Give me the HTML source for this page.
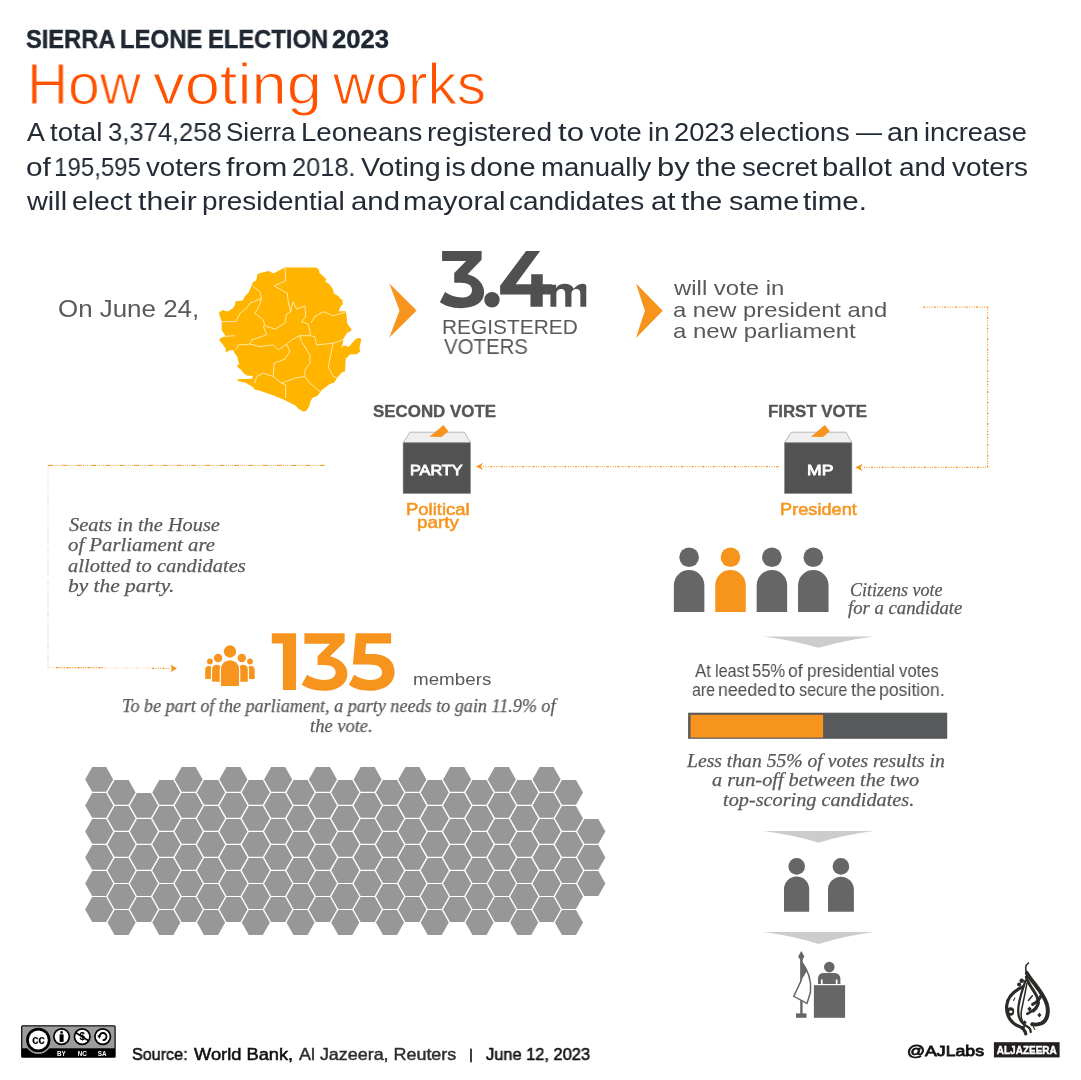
<!DOCTYPE html>
<html><head><meta charset="utf-8"><style>
html,body{margin:0;padding:0;background:#fff;}
#root{position:relative;width:1081px;height:1080px;overflow:hidden;background:#fff;}
.t{position:absolute;white-space:nowrap;transform-origin:0 0;will-change:transform;}
svg{position:absolute;left:0;top:0;will-change:transform;}
</style></head><body><div id="root">
<svg width="1081" height="1080" viewBox="0 0 1081 1080">
<rect x="470.2" y="1048.6" width="1.6" height="13.7" fill="#111"/>
<path d="M284.6,267.6 L316.1,267.6 L319.1,269.8 L319.4,273.1 L322.0,275.0 L326.1,279.0 L325.4,281.6 L329.4,284.2 L333.1,289.4 L333.9,293.5 L339.1,296.4 L339.8,298.3 L342.4,299.8 L342.8,304.2 L340.6,306.4 L338.7,311.3 L345.7,311.3 L346.5,315.3 L347.2,323.5 L351.7,329.4 L349.4,332.0 L347.2,332.4 L344.3,337.6 L342.8,339.8 L343.5,340.2 L341.3,348.3 L343.5,345.4 L347.2,346.1 L348.3,347.2 L356.1,338.7 L359.8,338.0 L361.3,339.4 L359.4,348.0 L360.2,350.9 L357.2,354.3 L350.2,354.3 L345.7,358.7 L345.0,371.3 L341.3,372.8 L336.1,379.4 L334.3,382.4 L329.4,384.3 L321.3,390.6 L317.6,395.7 L312.4,398.0 L310.2,401.7 L309.4,406.1 L306.5,410.6 L303.9,411.7 L298.7,409.1 L295.4,405.4 L285.0,400.2 L274.3,395.7 L259.4,390.6 L255.0,389.8 L252.8,386.9 L246.1,383.1 L238.0,380.9 L236.9,379.4 L241.7,379.1 L252.0,378.7 L252.8,376.1 L246.9,375.4 L243.1,372.8 L241.7,370.6 L236.5,366.1 L239.4,363.9 L238.0,360.2 L237.2,356.5 L234.3,352.8 L233.5,350.2 L229.8,350.2 L226.1,352.4 L225.4,348.3 L222.4,343.9 L219.8,340.9 L219.4,338.7 L225.4,336.0 L221.7,330.1 L221.7,321.3 L219.4,315.3 L219.1,312.0 L223.9,310.0 L224.6,310.9 L228.3,311.3 L232.8,308.3 L235.0,305.0 L235.7,301.3 L242.8,300.5 L245.0,296.1 L248.3,293.1 L251.3,286.4 L253.1,282.0 L256.1,280.5 L257.6,273.9 L262.4,272.4 L268.7,270.9 L273.5,273.5 Z" fill="#ffb400" />
<path d="M284.9,267.5 L285.7,280.8 L274.1,285.8 L281.6,290.0 L287.4,293.3 L288.2,301.6 L290.7,311.6 L286.6,314.1 L284.9,323.3 L274.9,329.1 L264.9,325.8 L263.3,319.9 L254.9,313.3 L258.3,307.4 L261.6,298.3 L259.9,291.6 L253.3,286.6" fill="none" stroke="#fff4d6" stroke-width="0.8"/>
<path d="M261.6,298.3 L249.9,303.3 L246.6,308.3 L240.0,313.3 L235.8,321.6 L221.6,321.6" fill="none" stroke="#fff4d6" stroke-width="0.8"/>
<path d="M263.3,325.8 L266.6,334.9 L251.6,339.9 L249.9,344.1 L238.3,344.9 L235.8,349.9" fill="none" stroke="#fff4d6" stroke-width="0.8"/>
<path d="M221.6,336.6 L235.0,335.7" fill="none" stroke="#fff4d6" stroke-width="0.8"/>
<path d="M249.9,344.1 L259.9,346.6 L273.3,344.9 L278.3,349.9 L286.6,344.1 L291.6,339.9 L299.9,335.7 L309.9,335.7 L314.9,336.6 L316.6,344.9 L333.2,343.2 L343.2,339.9" fill="none" stroke="#fff4d6" stroke-width="0.8"/>
<path d="M290.7,311.6 L293.2,301.6 L296.6,309.1 L304.9,305.8 L305.7,316.6 L301.6,321.6 L308.2,324.1 L310.7,334.9" fill="none" stroke="#fff4d6" stroke-width="0.8"/>
<path d="M310.7,323.3 L314.9,316.6 L323.2,311.6 L333.2,315.8 L344.9,312.4" fill="none" stroke="#fff4d6" stroke-width="0.8"/>
<path d="M299.9,335.7 L301.6,341.6 L309.9,354.9 L309.9,363.2 L304.9,369.9 L304.9,376.5 L309.9,383.2 L319.9,391.5" fill="none" stroke="#fff4d6" stroke-width="0.8"/>
<path d="M286.6,344.1 L289.9,351.6 L284.9,359.1 L274.1,363.2 L273.3,376.5 L281.6,383.2 L285.7,384.9 L285.7,398.2" fill="none" stroke="#fff4d6" stroke-width="0.8"/>
<path d="M281.6,383.2 L294.9,378.2 L304.9,376.5" fill="none" stroke="#fff4d6" stroke-width="0.8"/>
<path d="M273.3,376.5 L263.3,373.2 L256.6,376.5 L254.9,383.2" fill="none" stroke="#fff4d6" stroke-width="0.8"/>
<path d="M333.2,343.2 L328.2,366.6 L333.2,376.5 L338.2,378.2" fill="none" stroke="#fff4d6" stroke-width="0.8"/>
<path d="M389.2,283.3 L416.6,310.5 L389.2,337.7 Q396.5,318.5 399.5,310.5 Q396.5,302.5 389.2,283.3 Z" fill="#f7941d"/>
<path d="M636.1,283.5 L662.7,310.7 L636.1,337.9 Q642,318.7 645,310.7 Q642,302.7 636.1,283.5 Z" fill="#f7941d"/>
<path d="M409.8,432.2 L464.6,432.2 L470.5,442.8 L403.1,442.8 Z" fill="#efefef" stroke="#a8a8a8" stroke-width="0.8"/>
<path d="M429.6,436.7 L443.4,425.1 L448.5,431.2 L441.5,436.9 Z" fill="#f7941d"/>
<rect x="403.1" y="442.8" width="67.4" height="50.7" fill="#525252" stroke="#8a8a8a" stroke-width="0.6"/>
<path d="M791.2,432.2 L846.0,432.2 L851.9,442.8 L784.5,442.8 Z" fill="#efefef" stroke="#a8a8a8" stroke-width="0.8"/>
<path d="M811.0,436.7 L824.8,425.1 L829.9,431.2 L822.9,436.9 Z" fill="#f7941d"/>
<rect x="784.5" y="442.8" width="67.4" height="50.7" fill="#525252" stroke="#8a8a8a" stroke-width="0.6"/>
<path d="M923,307.2 L987.6,307.2 L987.6,467.3 L862,467.3" stroke="#f7941d" stroke-width="1.25" fill="none" stroke-dasharray="2.2 1.5 0.8 1.5 0.8 1.5 0.8 1.5"/>
<path d="M855.4,467.4 L862.5,463.8 L860.5,467.4 L862.5,471 Z" fill="#f7941d"/>
<path d="M778.5,466.5 L483,466.5" stroke="#f7941d" stroke-width="1.25" fill="none" stroke-dasharray="2.2 1.5 0.8 1.5 0.8 1.5 0.8 1.5"/>
<path d="M476,466.4 L483,462.8 L481,466.4 L483,470 Z" fill="#f7941d"/>
<path d="M324.8,465.4 L48,465.4" stroke="#f7941d" stroke-width="1" fill="none" stroke-dasharray="5 1.2 0.8 1.2 0.8 1.2 0.8 1.2 0.8 1.3"/>
<path d="M48,465.4 L48,667.6 L104,667.6" stroke="#f7941d" stroke-width="1.25" fill="none" stroke-dasharray="2.2 1.5 0.8 1.5 0.8 1.5 0.8 1.5" opacity="0.4"/>
<path d="M56,667.6 L104,667.6" stroke="#f7941d" stroke-width="1.25" fill="none" stroke-dasharray="2.2 1.5 0.8 1.5 0.8 1.5 0.8 1.5"/>
<path d="M104,668 L152,668" stroke="#f7941d" stroke-width="1.25" fill="none" stroke-dasharray="2.2 1.5 0.8 1.5 0.8 1.5 0.8 1.5" opacity="0.35"/>
<path d="M152,668.3 L172,668.3" stroke="#f7941d" stroke-width="1.25" fill="none" stroke-dasharray="2.2 1.5 0.8 1.5 0.8 1.5 0.8 1.5"/>
<path d="M177,668.4 L170.5,664.6 L172,668.4 L170.5,672.2 Z" fill="#f7941d"/>
<circle cx="209.9" cy="661.5" r="2.9" fill="#f7941d"/>
<circle cx="250" cy="661.5" r="2.9" fill="#f7941d"/>
<path d="M205.2,679 L205.2,669.75 A3.6500000000000057,3.6500000000000057 0 0 1 212.5,669.75 L212.5,679 Z" fill="#f7941d"/>
<path d="M247.1,679 L247.1,669.9 A3.799999999999997,3.799999999999997 0 0 1 254.7,669.9 L254.7,679 Z" fill="#f7941d"/>
<circle cx="218.1" cy="658" r="4.2" fill="#f7941d"/>
<circle cx="241.8" cy="658" r="4.2" fill="#f7941d"/>
<path d="M211.5,682.3 L211.5,669.35 A5.25,5.25 0 0 1 222,669.35 L222,682.3 Z" fill="#f7941d" stroke="#fff" stroke-width="1.2"/>
<path d="M238,682.3 L238,669.3000000000001 A5.200000000000003,5.200000000000003 0 0 1 248.4,669.3000000000001 L248.4,682.3 Z" fill="#f7941d" stroke="#fff" stroke-width="1.2"/>
<circle cx="230" cy="651.5" r="6.15" fill="#f7941d"/>
<path d="M220.3,686.5 L220.3,669.3 A9.699999999999989,9.699999999999989 0 0 1 239.7,669.3 L239.7,686.5 Z" fill="#f7941d" stroke="#fff" stroke-width="1.2"/>
<circle cx="689.1" cy="557.2" r="9.8" fill="#666666"/>
<path d="M673.85,612 L673.85,585.25 A15.25,15.25 0 0 1 704.35,585.25 L704.35,612 Z" fill="#666666"/>
<circle cx="730.5" cy="557.2" r="9.8" fill="#f7941d"/>
<path d="M715.25,612 L715.25,585.25 A15.25,15.25 0 0 1 745.75,585.25 L745.75,612 Z" fill="#f7941d"/>
<circle cx="771.9" cy="557.2" r="9.8" fill="#666666"/>
<path d="M756.65,612 L756.65,585.25 A15.25,15.25 0 0 1 787.15,585.25 L787.15,612 Z" fill="#666666"/>
<circle cx="813.3" cy="557.2" r="9.8" fill="#666666"/>
<path d="M798.05,612 L798.05,585.25 A15.25,15.25 0 0 1 828.55,585.25 L828.55,612 Z" fill="#666666"/>
<path d="M763.6,636.6 L873.7,636.6 Q843.6500000000001,640.6 818.6500000000001,647.8 Q793.6500000000001,640.6 763.6,636.6 Z" fill="#cccccc"/>
<path d="M763.6,831.1 L873.7,831.1 Q843.6500000000001,835.1 818.6500000000001,842.7 Q793.6500000000001,835.1 763.6,831.1 Z" fill="#cccccc"/>
<path d="M763.4,931.9 L874.2,931.9 Q843.8,935.9 818.8,943.9 Q793.8,935.9 763.4,931.9 Z" fill="#cccccc"/>
<rect x="688.1" y="712.7" width="259.1" height="26.1" fill="#58595b"/>
<rect x="690.5" y="714.8" width="132.6" height="22.8" fill="#f7941d"/>
<circle cx="796.7" cy="866.4" r="8.3" fill="#666666"/>
<path d="M784,911.7 L784,889.2 A12.600000000000023,12.600000000000023 0 0 1 809.2,889.2 L809.2,911.7 Z" fill="#666666"/>
<circle cx="840.9" cy="866.4" r="8.3" fill="#666666"/>
<path d="M828,911.7 L828,889.55 A12.949999999999989,12.949999999999989 0 0 1 853.9,889.55 L853.9,911.7 Z" fill="#666666"/>
<rect x="813.9" y="985.2" width="31.2" height="32.6" fill="#666666"/>
<circle cx="829.3" cy="967.1" r="5.3" fill="#666666"/>
<path d="M818,984 L818,978 A5.5,5.5 0 0 1 823.5,972.9 L835,972.9 A5.5,5.5 0 0 1 840.4,978 L840.4,984 L837.5,984 L837.5,979.5 L835.8,979.5 L835.8,984 L822.6,984 L822.6,979.5 L820.9,979.5 L820.9,984 Z" fill="#666666"/>
<rect x="800.2" y="958" width="2.4" height="56" fill="#666666"/>
<path d="M801.3,950.9 L804.4,956.5 L801.3,961.5 L798.1,956.5 Z" fill="#666666"/>
<rect x="796" y="1013.4" width="10.5" height="4.4" fill="#666666"/>
<path d="M801.4,961.5 Q812,975 810.5,992 L807,1003.5 L793.8,996.3 L801.4,980 Z" fill="#fff" stroke="#666666" stroke-width="1.5"/>
<path d="M801.4,961.5 Q805,966 807,971 L801.4,980 Z" fill="#666666"/>
<path d="M85.15,779.40 L92.17,766.99 L106.23,766.99 L113.25,779.40 L106.23,791.81 L92.17,791.81ZM85.15,805.42 L92.17,793.01 L106.23,793.01 L113.25,805.42 L106.23,817.83 L92.17,817.83ZM85.15,831.44 L92.17,819.03 L106.23,819.03 L113.25,831.44 L106.23,843.85 L92.17,843.85ZM85.15,857.46 L92.17,845.05 L106.23,845.05 L113.25,857.46 L106.23,869.87 L92.17,869.87ZM85.15,883.48 L92.17,871.07 L106.23,871.07 L113.25,883.48 L106.23,895.89 L92.17,895.89ZM85.15,909.50 L92.17,897.09 L106.23,897.09 L113.25,909.50 L106.23,921.91 L92.17,921.91ZM107.52,792.41 L114.55,780.00 L128.59,780.00 L135.62,792.41 L128.59,804.82 L114.55,804.82ZM107.52,818.43 L114.55,806.02 L128.59,806.02 L135.62,818.43 L128.59,830.84 L114.55,830.84ZM107.52,844.45 L114.55,832.04 L128.59,832.04 L135.62,844.45 L128.59,856.86 L114.55,856.86ZM107.52,870.47 L114.55,858.06 L128.59,858.06 L135.62,870.47 L128.59,882.88 L114.55,882.88ZM107.52,896.49 L114.55,884.08 L128.59,884.08 L135.62,896.49 L128.59,908.90 L114.55,908.90ZM107.52,922.51 L114.55,910.10 L128.59,910.10 L135.62,922.51 L128.59,934.92 L114.55,934.92ZM129.89,805.42 L136.91,793.01 L150.97,793.01 L157.99,805.42 L150.97,817.83 L136.91,817.83ZM129.89,831.44 L136.91,819.03 L150.97,819.03 L157.99,831.44 L150.97,843.85 L136.91,843.85ZM129.89,857.46 L136.91,845.05 L150.97,845.05 L157.99,857.46 L150.97,869.87 L136.91,869.87ZM129.89,883.48 L136.91,871.07 L150.97,871.07 L157.99,883.48 L150.97,895.89 L136.91,895.89ZM129.89,909.50 L136.91,897.09 L150.97,897.09 L157.99,909.50 L150.97,921.91 L136.91,921.91ZM152.26,792.41 L159.28,780.00 L173.34,780.00 L180.36,792.41 L173.34,804.82 L159.28,804.82ZM152.26,818.43 L159.28,806.02 L173.34,806.02 L180.36,818.43 L173.34,830.84 L159.28,830.84ZM152.26,844.45 L159.28,832.04 L173.34,832.04 L180.36,844.45 L173.34,856.86 L159.28,856.86ZM152.26,870.47 L159.28,858.06 L173.34,858.06 L180.36,870.47 L173.34,882.88 L159.28,882.88ZM152.26,896.49 L159.28,884.08 L173.34,884.08 L180.36,896.49 L173.34,908.90 L159.28,908.90ZM152.26,922.51 L159.28,910.10 L173.34,910.10 L180.36,922.51 L173.34,934.92 L159.28,934.92ZM174.63,779.40 L181.66,766.99 L195.71,766.99 L202.73,779.40 L195.71,791.81 L181.66,791.81ZM174.63,805.42 L181.66,793.01 L195.71,793.01 L202.73,805.42 L195.71,817.83 L181.66,817.83ZM174.63,831.44 L181.66,819.03 L195.71,819.03 L202.73,831.44 L195.71,843.85 L181.66,843.85ZM174.63,857.46 L181.66,845.05 L195.71,845.05 L202.73,857.46 L195.71,869.87 L181.66,869.87ZM174.63,883.48 L181.66,871.07 L195.71,871.07 L202.73,883.48 L195.71,895.89 L181.66,895.89ZM174.63,909.50 L181.66,897.09 L195.71,897.09 L202.73,909.50 L195.71,921.91 L181.66,921.91ZM197.00,792.41 L204.03,780.00 L218.08,780.00 L225.10,792.41 L218.08,804.82 L204.03,804.82ZM197.00,818.43 L204.03,806.02 L218.08,806.02 L225.10,818.43 L218.08,830.84 L204.03,830.84ZM197.00,844.45 L204.03,832.04 L218.08,832.04 L225.10,844.45 L218.08,856.86 L204.03,856.86ZM197.00,870.47 L204.03,858.06 L218.08,858.06 L225.10,870.47 L218.08,882.88 L204.03,882.88ZM197.00,896.49 L204.03,884.08 L218.08,884.08 L225.10,896.49 L218.08,908.90 L204.03,908.90ZM197.00,922.51 L204.03,910.10 L218.08,910.10 L225.10,922.51 L218.08,934.92 L204.03,934.92ZM219.37,779.40 L226.40,766.99 L240.45,766.99 L247.47,779.40 L240.45,791.81 L226.40,791.81ZM219.37,805.42 L226.40,793.01 L240.45,793.01 L247.47,805.42 L240.45,817.83 L226.40,817.83ZM219.37,831.44 L226.40,819.03 L240.45,819.03 L247.47,831.44 L240.45,843.85 L226.40,843.85ZM219.37,857.46 L226.40,845.05 L240.45,845.05 L247.47,857.46 L240.45,869.87 L226.40,869.87ZM219.37,883.48 L226.40,871.07 L240.45,871.07 L247.47,883.48 L240.45,895.89 L226.40,895.89ZM219.37,909.50 L226.40,897.09 L240.45,897.09 L247.47,909.50 L240.45,921.91 L226.40,921.91ZM241.74,792.41 L248.77,780.00 L262.81,780.00 L269.84,792.41 L262.81,804.82 L248.77,804.82ZM241.74,818.43 L248.77,806.02 L262.81,806.02 L269.84,818.43 L262.81,830.84 L248.77,830.84ZM241.74,844.45 L248.77,832.04 L262.81,832.04 L269.84,844.45 L262.81,856.86 L248.77,856.86ZM241.74,870.47 L248.77,858.06 L262.81,858.06 L269.84,870.47 L262.81,882.88 L248.77,882.88ZM241.74,896.49 L248.77,884.08 L262.81,884.08 L269.84,896.49 L262.81,908.90 L248.77,908.90ZM241.74,922.51 L248.77,910.10 L262.81,910.10 L269.84,922.51 L262.81,934.92 L248.77,934.92ZM264.11,779.40 L271.14,766.99 L285.19,766.99 L292.21,779.40 L285.19,791.81 L271.14,791.81ZM264.11,805.42 L271.14,793.01 L285.19,793.01 L292.21,805.42 L285.19,817.83 L271.14,817.83ZM264.11,831.44 L271.14,819.03 L285.19,819.03 L292.21,831.44 L285.19,843.85 L271.14,843.85ZM264.11,857.46 L271.14,845.05 L285.19,845.05 L292.21,857.46 L285.19,869.87 L271.14,869.87ZM264.11,883.48 L271.14,871.07 L285.19,871.07 L292.21,883.48 L285.19,895.89 L271.14,895.89ZM264.11,909.50 L271.14,897.09 L285.19,897.09 L292.21,909.50 L285.19,921.91 L271.14,921.91ZM286.48,792.41 L293.51,780.00 L307.56,780.00 L314.58,792.41 L307.56,804.82 L293.51,804.82ZM286.48,818.43 L293.51,806.02 L307.56,806.02 L314.58,818.43 L307.56,830.84 L293.51,830.84ZM286.48,844.45 L293.51,832.04 L307.56,832.04 L314.58,844.45 L307.56,856.86 L293.51,856.86ZM286.48,870.47 L293.51,858.06 L307.56,858.06 L314.58,870.47 L307.56,882.88 L293.51,882.88ZM286.48,896.49 L293.51,884.08 L307.56,884.08 L314.58,896.49 L307.56,908.90 L293.51,908.90ZM286.48,922.51 L293.51,910.10 L307.56,910.10 L314.58,922.51 L307.56,934.92 L293.51,934.92ZM308.85,779.40 L315.88,766.99 L329.93,766.99 L336.95,779.40 L329.93,791.81 L315.88,791.81ZM308.85,805.42 L315.88,793.01 L329.93,793.01 L336.95,805.42 L329.93,817.83 L315.88,817.83ZM308.85,831.44 L315.88,819.03 L329.93,819.03 L336.95,831.44 L329.93,843.85 L315.88,843.85ZM308.85,857.46 L315.88,845.05 L329.93,845.05 L336.95,857.46 L329.93,869.87 L315.88,869.87ZM308.85,883.48 L315.88,871.07 L329.93,871.07 L336.95,883.48 L329.93,895.89 L315.88,895.89ZM308.85,909.50 L315.88,897.09 L329.93,897.09 L336.95,909.50 L329.93,921.91 L315.88,921.91ZM331.22,792.41 L338.25,780.00 L352.30,780.00 L359.32,792.41 L352.30,804.82 L338.25,804.82ZM331.22,818.43 L338.25,806.02 L352.30,806.02 L359.32,818.43 L352.30,830.84 L338.25,830.84ZM331.22,844.45 L338.25,832.04 L352.30,832.04 L359.32,844.45 L352.30,856.86 L338.25,856.86ZM331.22,870.47 L338.25,858.06 L352.30,858.06 L359.32,870.47 L352.30,882.88 L338.25,882.88ZM331.22,896.49 L338.25,884.08 L352.30,884.08 L359.32,896.49 L352.30,908.90 L338.25,908.90ZM331.22,922.51 L338.25,910.10 L352.30,910.10 L359.32,922.51 L352.30,934.92 L338.25,934.92ZM353.59,779.40 L360.62,766.99 L374.66,766.99 L381.69,779.40 L374.66,791.81 L360.62,791.81ZM353.59,805.42 L360.62,793.01 L374.66,793.01 L381.69,805.42 L374.66,817.83 L360.62,817.83ZM353.59,831.44 L360.62,819.03 L374.66,819.03 L381.69,831.44 L374.66,843.85 L360.62,843.85ZM353.59,857.46 L360.62,845.05 L374.66,845.05 L381.69,857.46 L374.66,869.87 L360.62,869.87ZM353.59,883.48 L360.62,871.07 L374.66,871.07 L381.69,883.48 L374.66,895.89 L360.62,895.89ZM353.59,909.50 L360.62,897.09 L374.66,897.09 L381.69,909.50 L374.66,921.91 L360.62,921.91ZM375.96,792.41 L382.99,780.00 L397.03,780.00 L404.06,792.41 L397.03,804.82 L382.99,804.82ZM375.96,818.43 L382.99,806.02 L397.03,806.02 L404.06,818.43 L397.03,830.84 L382.99,830.84ZM375.96,844.45 L382.99,832.04 L397.03,832.04 L404.06,844.45 L397.03,856.86 L382.99,856.86ZM375.96,870.47 L382.99,858.06 L397.03,858.06 L404.06,870.47 L397.03,882.88 L382.99,882.88ZM375.96,896.49 L382.99,884.08 L397.03,884.08 L404.06,896.49 L397.03,908.90 L382.99,908.90ZM375.96,922.51 L382.99,910.10 L397.03,910.10 L404.06,922.51 L397.03,934.92 L382.99,934.92ZM398.33,779.40 L405.36,766.99 L419.40,766.99 L426.43,779.40 L419.40,791.81 L405.36,791.81ZM398.33,805.42 L405.36,793.01 L419.40,793.01 L426.43,805.42 L419.40,817.83 L405.36,817.83ZM398.33,831.44 L405.36,819.03 L419.40,819.03 L426.43,831.44 L419.40,843.85 L405.36,843.85ZM398.33,857.46 L405.36,845.05 L419.40,845.05 L426.43,857.46 L419.40,869.87 L405.36,869.87ZM398.33,883.48 L405.36,871.07 L419.40,871.07 L426.43,883.48 L419.40,895.89 L405.36,895.89ZM398.33,909.50 L405.36,897.09 L419.40,897.09 L426.43,909.50 L419.40,921.91 L405.36,921.91ZM420.70,792.41 L427.73,780.00 L441.77,780.00 L448.80,792.41 L441.77,804.82 L427.73,804.82ZM420.70,818.43 L427.73,806.02 L441.77,806.02 L448.80,818.43 L441.77,830.84 L427.73,830.84ZM420.70,844.45 L427.73,832.04 L441.77,832.04 L448.80,844.45 L441.77,856.86 L427.73,856.86ZM420.70,870.47 L427.73,858.06 L441.77,858.06 L448.80,870.47 L441.77,882.88 L427.73,882.88ZM420.70,896.49 L427.73,884.08 L441.77,884.08 L448.80,896.49 L441.77,908.90 L427.73,908.90ZM420.70,922.51 L427.73,910.10 L441.77,910.10 L448.80,922.51 L441.77,934.92 L427.73,934.92ZM443.07,779.40 L450.10,766.99 L464.14,766.99 L471.17,779.40 L464.14,791.81 L450.10,791.81ZM443.07,805.42 L450.10,793.01 L464.14,793.01 L471.17,805.42 L464.14,817.83 L450.10,817.83ZM443.07,831.44 L450.10,819.03 L464.14,819.03 L471.17,831.44 L464.14,843.85 L450.10,843.85ZM443.07,857.46 L450.10,845.05 L464.14,845.05 L471.17,857.46 L464.14,869.87 L450.10,869.87ZM443.07,883.48 L450.10,871.07 L464.14,871.07 L471.17,883.48 L464.14,895.89 L450.10,895.89ZM443.07,909.50 L450.10,897.09 L464.14,897.09 L471.17,909.50 L464.14,921.91 L450.10,921.91ZM465.44,792.41 L472.47,780.00 L486.51,780.00 L493.54,792.41 L486.51,804.82 L472.47,804.82ZM465.44,818.43 L472.47,806.02 L486.51,806.02 L493.54,818.43 L486.51,830.84 L472.47,830.84ZM465.44,844.45 L472.47,832.04 L486.51,832.04 L493.54,844.45 L486.51,856.86 L472.47,856.86ZM465.44,870.47 L472.47,858.06 L486.51,858.06 L493.54,870.47 L486.51,882.88 L472.47,882.88ZM465.44,896.49 L472.47,884.08 L486.51,884.08 L493.54,896.49 L486.51,908.90 L472.47,908.90ZM465.44,922.51 L472.47,910.10 L486.51,910.10 L493.54,922.51 L486.51,934.92 L472.47,934.92ZM487.81,779.40 L494.84,766.99 L508.88,766.99 L515.91,779.40 L508.88,791.81 L494.84,791.81ZM487.81,805.42 L494.84,793.01 L508.88,793.01 L515.91,805.42 L508.88,817.83 L494.84,817.83ZM487.81,831.44 L494.84,819.03 L508.88,819.03 L515.91,831.44 L508.88,843.85 L494.84,843.85ZM487.81,857.46 L494.84,845.05 L508.88,845.05 L515.91,857.46 L508.88,869.87 L494.84,869.87ZM487.81,883.48 L494.84,871.07 L508.88,871.07 L515.91,883.48 L508.88,895.89 L494.84,895.89ZM487.81,909.50 L494.84,897.09 L508.88,897.09 L515.91,909.50 L508.88,921.91 L494.84,921.91ZM510.18,792.41 L517.21,780.00 L531.25,780.00 L538.28,792.41 L531.25,804.82 L517.21,804.82ZM510.18,818.43 L517.21,806.02 L531.25,806.02 L538.28,818.43 L531.25,830.84 L517.21,830.84ZM510.18,844.45 L517.21,832.04 L531.25,832.04 L538.28,844.45 L531.25,856.86 L517.21,856.86ZM510.18,870.47 L517.21,858.06 L531.25,858.06 L538.28,870.47 L531.25,882.88 L517.21,882.88ZM510.18,896.49 L517.21,884.08 L531.25,884.08 L538.28,896.49 L531.25,908.90 L517.21,908.90ZM510.18,922.51 L517.21,910.10 L531.25,910.10 L538.28,922.51 L531.25,934.92 L517.21,934.92ZM532.55,779.40 L539.58,766.99 L553.62,766.99 L560.65,779.40 L553.62,791.81 L539.58,791.81ZM532.55,805.42 L539.58,793.01 L553.62,793.01 L560.65,805.42 L553.62,817.83 L539.58,817.83ZM532.55,831.44 L539.58,819.03 L553.62,819.03 L560.65,831.44 L553.62,843.85 L539.58,843.85ZM532.55,857.46 L539.58,845.05 L553.62,845.05 L560.65,857.46 L553.62,869.87 L539.58,869.87ZM532.55,883.48 L539.58,871.07 L553.62,871.07 L560.65,883.48 L553.62,895.89 L539.58,895.89ZM532.55,909.50 L539.58,897.09 L553.62,897.09 L560.65,909.50 L553.62,921.91 L539.58,921.91ZM554.92,792.41 L561.95,780.00 L576.00,780.00 L583.02,792.41 L576.00,804.82 L561.95,804.82ZM554.92,818.43 L561.95,806.02 L576.00,806.02 L583.02,818.43 L576.00,830.84 L561.95,830.84ZM554.92,844.45 L561.95,832.04 L576.00,832.04 L583.02,844.45 L576.00,856.86 L561.95,856.86ZM554.92,870.47 L561.95,858.06 L576.00,858.06 L583.02,870.47 L576.00,882.88 L561.95,882.88ZM554.92,896.49 L561.95,884.08 L576.00,884.08 L583.02,896.49 L576.00,908.90 L561.95,908.90ZM554.92,922.51 L561.95,910.10 L576.00,910.10 L583.02,922.51 L576.00,934.92 L561.95,934.92ZM577.29,831.44 L584.32,819.03 L598.37,819.03 L605.39,831.44 L598.37,843.85 L584.32,843.85ZM577.29,857.46 L584.32,845.05 L598.37,845.05 L605.39,857.46 L598.37,869.87 L584.32,869.87ZM577.29,883.48 L584.32,871.07 L598.37,871.07 L605.39,883.48 L598.37,895.89 L584.32,895.89Z" fill="#979797"/>
<rect x="21.1" y="1025.2" width="94.6" height="32.5" rx="1.5" fill="#000"/>
<rect x="22.3" y="1026.4" width="92.2" height="21.9" fill="#9c9c9c"/>
<circle cx="38.3" cy="1040.6" r="13.4" fill="#9c9c9c"/>
<circle cx="38.3" cy="1040" r="12.2" fill="#000"/>
<circle cx="38.3" cy="1040" r="9.5" fill="#fff"/>
<text x="38.3" y="1043.9" text-anchor="middle" font-family="Liberation Sans" font-weight="700" font-size="12" fill="#000" letter-spacing="-0.5">cc</text>
<circle cx="61.6" cy="1036.6" r="8.6" fill="#000"/>
<circle cx="61.6" cy="1036.6" r="6.9" fill="#fff"/>
<circle cx="82.2" cy="1036.6" r="8.6" fill="#000"/>
<circle cx="82.2" cy="1036.6" r="6.9" fill="#fff"/>
<circle cx="102.7" cy="1036.6" r="8.6" fill="#000"/>
<circle cx="102.7" cy="1036.6" r="6.9" fill="#fff"/>
<circle cx="61.6" cy="1032.4" r="1.3" fill="#000"/><rect x="59.6" y="1034.3" width="4" height="7.6" fill="#000"/>
<text x="82.2" y="1040.3" text-anchor="middle" font-family="Liberation Sans" font-weight="700" font-size="10" fill="#000">$</text><path d="M75.5,1032.5 L89,1041" stroke="#000" stroke-width="1.6"/>
<path d="M99.3,1036.6 A3.6,3.6 0 1 1 102.7,1040.2" fill="none" stroke="#000" stroke-width="1.8"/><path d="M97.3,1035.5 L101.2,1035.5 L99.3,1038.8 Z" fill="#000"/>
<text x="61.3" y="1055.8" text-anchor="middle" font-family="Liberation Sans" font-weight="700" font-size="6.3" fill="#fff">BY</text>
<text x="82.2" y="1055.8" text-anchor="middle" font-family="Liberation Sans" font-weight="700" font-size="6.3" fill="#fff">NC</text>
<text x="102.1" y="1055.8" text-anchor="middle" font-family="Liberation Sans" font-weight="700" font-size="6.3" fill="#fff">SA</text>
<rect x="993.9" y="1042.2" width="65.7" height="15.2" fill="#231f20"/>
<text x="1026.8" y="1053.8" text-anchor="middle" font-family="Liberation Sans" font-weight="700" font-size="11.8" fill="#fff" stroke="#fff" stroke-width="0.45" textLength="60" lengthAdjust="spacingAndGlyphs">ALJAZEERA</text>
<g transform="translate(995,958) scale(0.07595)" fill="none" stroke="#2b2a26" stroke-linecap="round">
<path d="M440,68 C398,95 395,150 420,200" stroke-width="22"/>
<path d="M420,200 C490,320 640,460 683,610 C712,720 690,820 615,860 C570,880 525,880 490,872" stroke-width="52"/>
<path d="M412,250 C430,340 520,430 555,515 C585,590 565,650 505,700" stroke-width="38"/>
<path d="M365,380 C255,430 170,505 155,620 C140,760 215,860 315,900 C365,920 395,960 405,1000" stroke-width="42"/>
<path d="M400,300 C360,430 305,560 305,700 C305,800 345,860 420,900 C450,915 470,940 470,975" stroke-width="30"/>
<path d="M495,610 C545,585 585,555 600,505" stroke-width="40"/>
<path d="M440,560 L492,498" stroke-width="20"/>
<path d="M420,330 C400,450 375,560 350,680 C335,760 350,830 390,875" stroke-width="20"/>
<path d="M575,590 C555,650 495,700 425,735" stroke-width="34"/>
<path d="M245,560 L262,525" stroke-width="14"/>
<path d="M505,905 L525,940" stroke-width="14"/>
</g>
<g transform="translate(995,958) scale(0.07595)" fill="#2b2a26">
<circle cx="352" cy="300" r="30"/><circle cx="318" cy="348" r="27"/>
<ellipse cx="205" cy="705" rx="48" ry="55"/>
<path d="M455,640 L485,672 L455,704 L425,672Z"/>
<path d="M585,720 L612,752 L585,784 L558,752Z"/>
<path d="M390,820 L418,850 L390,880 L362,850Z"/>
<path d="M375,885 L400,912 L375,940 L350,912Z"/>
</g>
<ellipse cx="1010.8" cy="1011.8" rx="1.6" ry="1.2" fill="#fff"/>
</svg>
<div class="t" style="font-family:'Liberation Sans',sans-serif;font-weight:700;color:#1f2732;font-size:25.51px;line-height:25.51px;left:25.99px;top:26.96px;transform:scaleX(0.9284);-webkit-text-stroke:0.45px #1f2732">SIERRA</div>
<div class="t" style="font-family:'Liberation Sans',sans-serif;font-weight:700;color:#1f2732;font-size:25.51px;line-height:25.51px;left:119.65px;top:26.96px;transform:scaleX(0.9376);-webkit-text-stroke:0.45px #1f2732">LEONE</div>
<div class="t" style="font-family:'Liberation Sans',sans-serif;font-weight:700;color:#1f2732;font-size:25.51px;line-height:25.51px;left:207.56px;top:26.96px;transform:scaleX(0.9313);-webkit-text-stroke:0.45px #1f2732">ELECTION</div>
<div class="t" style="font-family:'Liberation Sans',sans-serif;font-weight:700;color:#1f2732;font-size:25.51px;line-height:25.51px;left:331.50px;top:26.96px;transform:scaleX(1.0060);-webkit-text-stroke:0.45px #1f2732">2023</div>
<div class="t" style="font-family:'Liberation Sans',sans-serif;font-weight:400;color:#ff5200;font-size:57.99px;line-height:57.99px;left:26.54px;top:54.91px;transform:scaleX(0.9826);-webkit-text-stroke:1.1px #fff">How</div>
<div class="t" style="font-family:'Liberation Sans',sans-serif;font-weight:400;color:#ff5200;font-size:57.99px;line-height:57.99px;left:152.88px;top:54.91px;transform:scaleX(1.0917);-webkit-text-stroke:1.1px #fff">voting</div>
<div class="t" style="font-family:'Liberation Sans',sans-serif;font-weight:400;color:#ff5200;font-size:57.99px;line-height:57.99px;left:333.00px;top:54.91px;transform:scaleX(1.0111);-webkit-text-stroke:1.1px #fff">works</div>
<div class="t" style="font-family:'Liberation Sans',sans-serif;font-weight:400;color:#232b36;font-size:26.02px;line-height:26.02px;left:26.50px;top:119.28px;transform:scaleX(1.0288);">A</div>
<div class="t" style="font-family:'Liberation Sans',sans-serif;font-weight:400;color:#232b36;font-size:26.02px;line-height:26.02px;left:50.38px;top:119.28px;transform:scaleX(1.0639);">total</div>
<div class="t" style="font-family:'Liberation Sans',sans-serif;font-weight:400;color:#232b36;font-size:26.02px;line-height:26.02px;left:107.98px;top:119.28px;transform:scaleX(0.9824);">3,374,258</div>
<div class="t" style="font-family:'Liberation Sans',sans-serif;font-weight:400;color:#232b36;font-size:26.02px;line-height:26.02px;left:226.03px;top:119.28px;transform:scaleX(0.9976);">Sierra</div>
<div class="t" style="font-family:'Liberation Sans',sans-serif;font-weight:400;color:#232b36;font-size:26.02px;line-height:26.02px;left:300.69px;top:119.28px;transform:scaleX(1.0615);">Leoneans</div>
<div class="t" style="font-family:'Liberation Sans',sans-serif;font-weight:400;color:#232b36;font-size:26.02px;line-height:26.02px;left:427.37px;top:119.28px;transform:scaleX(1.0814);">registered</div>
<div class="t" style="font-family:'Liberation Sans',sans-serif;font-weight:400;color:#232b36;font-size:26.02px;line-height:26.02px;left:558.23px;top:119.28px;transform:scaleX(1.1974);">to</div>
<div class="t" style="font-family:'Liberation Sans',sans-serif;font-weight:400;color:#232b36;font-size:26.02px;line-height:26.02px;left:589.56px;top:119.28px;transform:scaleX(1.0486);">vote</div>
<div class="t" style="font-family:'Liberation Sans',sans-serif;font-weight:400;color:#232b36;font-size:26.02px;line-height:26.02px;left:647.81px;top:119.28px;transform:scaleX(1.0607);">in</div>
<div class="t" style="font-family:'Liberation Sans',sans-serif;font-weight:400;color:#232b36;font-size:26.02px;line-height:26.02px;left:674.13px;top:119.28px;transform:scaleX(1.0496);">2023</div>
<div class="t" style="font-family:'Liberation Sans',sans-serif;font-weight:400;color:#232b36;font-size:26.02px;line-height:26.02px;left:739.08px;top:119.28px;transform:scaleX(1.0776);">elections</div>
<div class="t" style="font-family:'Liberation Sans',sans-serif;font-weight:400;color:#232b36;font-size:26.02px;line-height:26.02px;left:856.20px;top:119.28px;transform:scaleX(0.9840);">—</div>
<div class="t" style="font-family:'Liberation Sans',sans-serif;font-weight:400;color:#232b36;font-size:26.02px;line-height:26.02px;left:886.65px;top:119.28px;transform:scaleX(1.1091);">an</div>
<div class="t" style="font-family:'Liberation Sans',sans-serif;font-weight:400;color:#232b36;font-size:26.02px;line-height:26.02px;left:923.83px;top:119.28px;transform:scaleX(1.0452);">increase</div>
<div class="t" style="font-family:'Liberation Sans',sans-serif;font-weight:400;color:#232b36;font-size:26.02px;line-height:26.02px;left:25.91px;top:153.53px;transform:scaleX(1.1458);">of</div>
<div class="t" style="font-family:'Liberation Sans',sans-serif;font-weight:400;color:#232b36;font-size:26.02px;line-height:26.02px;left:53.80px;top:153.53px;transform:scaleX(0.9247);">195,595</div>
<div class="t" style="font-family:'Liberation Sans',sans-serif;font-weight:400;color:#232b36;font-size:26.02px;line-height:26.02px;left:146.16px;top:153.53px;transform:scaleX(1.0650);">voters</div>
<div class="t" style="font-family:'Liberation Sans',sans-serif;font-weight:400;color:#232b36;font-size:26.02px;line-height:26.02px;left:226.04px;top:153.53px;transform:scaleX(1.1811);">from</div>
<div class="t" style="font-family:'Liberation Sans',sans-serif;font-weight:400;color:#232b36;font-size:26.02px;line-height:26.02px;left:292.23px;top:153.53px;transform:scaleX(0.9756);">2018.</div>
<div class="t" style="font-family:'Liberation Sans',sans-serif;font-weight:400;color:#232b36;font-size:26.02px;line-height:26.02px;left:360.86px;top:153.53px;transform:scaleX(1.1020);">Voting</div>
<div class="t" style="font-family:'Liberation Sans',sans-serif;font-weight:400;color:#232b36;font-size:26.02px;line-height:26.02px;left:444.93px;top:153.53px;transform:scaleX(1.1035);">is</div>
<div class="t" style="font-family:'Liberation Sans',sans-serif;font-weight:400;color:#232b36;font-size:26.02px;line-height:26.02px;left:469.92px;top:153.53px;transform:scaleX(1.1333);">done</div>
<div class="t" style="font-family:'Liberation Sans',sans-serif;font-weight:400;color:#232b36;font-size:26.02px;line-height:26.02px;left:540.51px;top:153.53px;transform:scaleX(1.0598);">manually</div>
<div class="t" style="font-family:'Liberation Sans',sans-serif;font-weight:400;color:#232b36;font-size:26.02px;line-height:26.02px;left:656.88px;top:153.53px;transform:scaleX(1.1919);">by</div>
<div class="t" style="font-family:'Liberation Sans',sans-serif;font-weight:400;color:#232b36;font-size:26.02px;line-height:26.02px;left:695.76px;top:153.53px;transform:scaleX(1.1213);">the</div>
<div class="t" style="font-family:'Liberation Sans',sans-serif;font-weight:400;color:#232b36;font-size:26.02px;line-height:26.02px;left:742.27px;top:153.53px;transform:scaleX(1.0665);">secret</div>
<div class="t" style="font-family:'Liberation Sans',sans-serif;font-weight:400;color:#232b36;font-size:26.02px;line-height:26.02px;left:822.20px;top:153.53px;transform:scaleX(1.1249);">ballot</div>
<div class="t" style="font-family:'Liberation Sans',sans-serif;font-weight:400;color:#232b36;font-size:26.02px;line-height:26.02px;left:898.98px;top:153.53px;transform:scaleX(1.0767);">and</div>
<div class="t" style="font-family:'Liberation Sans',sans-serif;font-weight:400;color:#232b36;font-size:26.02px;line-height:26.02px;left:951.76px;top:153.53px;transform:scaleX(1.0736);">voters</div>
<div class="t" style="font-family:'Liberation Sans',sans-serif;font-weight:400;color:#232b36;font-size:26.02px;line-height:26.02px;left:26.70px;top:187.78px;transform:scaleX(1.1094);">will</div>
<div class="t" style="font-family:'Liberation Sans',sans-serif;font-weight:400;color:#232b36;font-size:26.02px;line-height:26.02px;left:71.57px;top:187.78px;transform:scaleX(1.0870);">elect</div>
<div class="t" style="font-family:'Liberation Sans',sans-serif;font-weight:400;color:#232b36;font-size:26.02px;line-height:26.02px;left:137.65px;top:187.78px;transform:scaleX(1.1611);">their</div>
<div class="t" style="font-family:'Liberation Sans',sans-serif;font-weight:400;color:#232b36;font-size:26.02px;line-height:26.02px;left:202.19px;top:187.78px;transform:scaleX(1.0720);">presidential</div>
<div class="t" style="font-family:'Liberation Sans',sans-serif;font-weight:400;color:#232b36;font-size:26.02px;line-height:26.02px;left:351.23px;top:187.78px;transform:scaleX(1.1284);">and</div>
<div class="t" style="font-family:'Liberation Sans',sans-serif;font-weight:400;color:#232b36;font-size:26.02px;line-height:26.02px;left:403.13px;top:187.78px;transform:scaleX(1.1076);">mayoral</div>
<div class="t" style="font-family:'Liberation Sans',sans-serif;font-weight:400;color:#232b36;font-size:26.02px;line-height:26.02px;left:509.48px;top:187.78px;transform:scaleX(1.0739);">candidates</div>
<div class="t" style="font-family:'Liberation Sans',sans-serif;font-weight:400;color:#232b36;font-size:26.02px;line-height:26.02px;left:650.82px;top:187.78px;transform:scaleX(1.1310);">at</div>
<div class="t" style="font-family:'Liberation Sans',sans-serif;font-weight:400;color:#232b36;font-size:26.02px;line-height:26.02px;left:681.06px;top:187.78px;transform:scaleX(1.1386);">the</div>
<div class="t" style="font-family:'Liberation Sans',sans-serif;font-weight:400;color:#232b36;font-size:26.02px;line-height:26.02px;left:728.54px;top:187.78px;transform:scaleX(1.1028);">same</div>
<div class="t" style="font-family:'Liberation Sans',sans-serif;font-weight:400;color:#232b36;font-size:26.02px;line-height:26.02px;left:803.36px;top:187.78px;transform:scaleX(1.1325);">time.</div>
<div class="t" style="font-family:'Liberation Sans',sans-serif;font-weight:400;color:#58595b;font-size:23.55px;line-height:23.55px;left:58.43px;top:298.27px;transform:scaleX(1.1003);">On June 24,</div>
<div class="t" style="font-family:'Liberation Sans',sans-serif;font-weight:400;color:#58595b;font-size:20.64px;line-height:20.64px;left:442.43px;top:316.93px;transform:scaleX(1.0131);">REGISTERED</div>
<div class="t" style="font-family:'Liberation Sans',sans-serif;font-weight:400;color:#58595b;font-size:21.37px;line-height:21.37px;left:444.00px;top:337.11px;transform:scaleX(0.9557);">VOTERS</div>
<div class="t" style="font-family:'Liberation Sans',sans-serif;font-weight:400;color:#58595b;font-size:20.14px;line-height:20.14px;left:674.40px;top:278.35px;transform:scaleX(1.1887);">will vote in</div>
<div class="t" style="font-family:'Liberation Sans',sans-serif;font-weight:400;color:#58595b;font-size:20.14px;line-height:20.14px;left:673.45px;top:299.85px;transform:scaleX(1.1823);">a new president and</div>
<div class="t" style="font-family:'Liberation Sans',sans-serif;font-weight:400;color:#58595b;font-size:20.14px;line-height:20.14px;left:673.44px;top:320.55px;transform:scaleX(1.1926);">a new parliament</div>
<div class="t" style="font-family:'Liberation Sans',sans-serif;font-weight:700;color:#555555;font-size:16.13px;line-height:16.13px;left:373.09px;top:403.04px;transform:scaleX(1.0488);-webkit-text-stroke:0.35px #555">SECOND VOTE</div>
<div class="t" style="font-family:'Liberation Sans',sans-serif;font-weight:700;color:#555555;font-size:16.13px;line-height:16.13px;left:768.21px;top:403.14px;transform:scaleX(1.0436);-webkit-text-stroke:0.35px #555">FIRST VOTE</div>
<div class="t" style="font-family:'Liberation Sans',sans-serif;font-weight:400;color:#ffffff;font-size:15.41px;line-height:15.41px;left:410.40px;top:462.36px;transform:scaleX(1.0521);-webkit-text-stroke:0.9px #fff">PARTY</div>
<div class="t" style="font-family:'Liberation Sans',sans-serif;font-weight:400;color:#ffffff;font-size:15.41px;line-height:15.41px;left:806.59px;top:462.36px;transform:scaleX(1.1418);-webkit-text-stroke:0.85px #fff">MP</div>
<div class="t" style="font-family:'Liberation Sans',sans-serif;font-weight:400;color:#f7941d;font-size:15.99px;line-height:15.99px;left:406.02px;top:502.47px;transform:scaleX(1.1542);-webkit-text-stroke:0.5px #f7941d">Political</div>
<div class="t" style="font-family:'Liberation Sans',sans-serif;font-weight:400;color:#f7941d;font-size:15.99px;line-height:15.99px;left:416.68px;top:515.27px;transform:scaleX(1.1785);-webkit-text-stroke:0.5px #f7941d">party</div>
<div class="t" style="font-family:'Liberation Sans',sans-serif;font-weight:400;color:#f7941d;font-size:15.99px;line-height:15.99px;left:779.95px;top:502.47px;transform:scaleX(1.1375);-webkit-text-stroke:0.5px #f7941d">President</div>
<div class="t" style="font-family:'Liberation Serif',serif;font-style:italic;color:#58595b;font-size:19.24px;line-height:19.24px;left:68.60px;top:515.39px;transform:scaleX(1.0580);-webkit-text-stroke:0.25px #58595b">Seats in the House</div>
<div class="t" style="font-family:'Liberation Serif',serif;font-style:italic;color:#58595b;font-size:19.24px;line-height:19.24px;left:68.18px;top:535.19px;transform:scaleX(1.0804);-webkit-text-stroke:0.25px #58595b">of Parliament are</div>
<div class="t" style="font-family:'Liberation Serif',serif;font-style:italic;color:#58595b;font-size:19.24px;line-height:19.24px;left:68.18px;top:555.79px;transform:scaleX(1.0669);-webkit-text-stroke:0.25px #58595b">allotted to candidates</div>
<div class="t" style="font-family:'Liberation Serif',serif;font-style:italic;color:#58595b;font-size:19.24px;line-height:19.24px;left:68.05px;top:575.69px;transform:scaleX(1.1126);-webkit-text-stroke:0.25px #58595b">by the party.</div>
<div class="t" style="font-family:'Liberation Sans',sans-serif;font-weight:400;color:#58595b;font-size:16.80px;line-height:16.80px;left:412.68px;top:672.28px;transform:scaleX(1.1203);">members</div>
<div class="t" style="font-family:'Liberation Serif',serif;font-style:italic;color:#58595b;font-size:18.63px;line-height:18.63px;left:121.92px;top:697.40px;transform:scaleX(0.9729);-webkit-text-stroke:0.25px #58595b">To be part of the parliament, a party needs to gain 11.9% of</div>
<div class="t" style="font-family:'Liberation Serif',serif;font-style:italic;color:#58595b;font-size:18.63px;line-height:18.63px;left:309.67px;top:717.30px;transform:scaleX(0.9928);-webkit-text-stroke:0.25px #58595b">the vote.</div>
<div class="t" style="font-family:'Liberation Serif',serif;font-style:italic;color:#58595b;font-size:18.02px;line-height:18.02px;left:850.11px;top:581.41px;transform:scaleX(0.9994);-webkit-text-stroke:0.25px #58595b">Citizens vote</div>
<div class="t" style="font-family:'Liberation Serif',serif;font-style:italic;color:#58595b;font-size:18.02px;line-height:18.02px;left:847.61px;top:599.11px;transform:scaleX(1.0389);-webkit-text-stroke:0.25px #58595b">for a candidate</div>
<div class="t" style="font-family:'Liberation Sans',sans-serif;font-weight:400;color:#4d4d4f;font-size:18.75px;line-height:18.75px;left:695.20px;top:661.63px;transform:scaleX(0.8955);">At</div>
<div class="t" style="font-family:'Liberation Sans',sans-serif;font-weight:400;color:#4d4d4f;font-size:18.75px;line-height:18.75px;left:714.65px;top:661.63px;transform:scaleX(0.8627);">least</div>
<div class="t" style="font-family:'Liberation Sans',sans-serif;font-weight:400;color:#4d4d4f;font-size:18.75px;line-height:18.75px;left:752.24px;top:661.63px;transform:scaleX(0.8838);">55%</div>
<div class="t" style="font-family:'Liberation Sans',sans-serif;font-weight:400;color:#4d4d4f;font-size:18.75px;line-height:18.75px;left:788.30px;top:661.63px;transform:scaleX(0.9325);">of</div>
<div class="t" style="font-family:'Liberation Sans',sans-serif;font-weight:400;color:#4d4d4f;font-size:18.75px;line-height:18.75px;left:806.58px;top:661.63px;transform:scaleX(0.9157);">presidential</div>
<div class="t" style="font-family:'Liberation Sans',sans-serif;font-weight:400;color:#4d4d4f;font-size:18.75px;line-height:18.75px;left:898.52px;top:661.63px;transform:scaleX(0.8874);">votes</div>
<div class="t" style="font-family:'Liberation Sans',sans-serif;font-weight:400;color:#4d4d4f;font-size:18.75px;line-height:18.75px;left:692.36px;top:680.63px;transform:scaleX(0.8471);">are</div>
<div class="t" style="font-family:'Liberation Sans',sans-serif;font-weight:400;color:#4d4d4f;font-size:18.75px;line-height:18.75px;left:718.45px;top:680.63px;transform:scaleX(0.9402);">needed</div>
<div class="t" style="font-family:'Liberation Sans',sans-serif;font-weight:400;color:#4d4d4f;font-size:18.75px;line-height:18.75px;left:779.41px;top:680.63px;transform:scaleX(1.0462);">to</div>
<div class="t" style="font-family:'Liberation Sans',sans-serif;font-weight:400;color:#4d4d4f;font-size:18.75px;line-height:18.75px;left:799.32px;top:680.63px;transform:scaleX(0.8606);">secure</div>
<div class="t" style="font-family:'Liberation Sans',sans-serif;font-weight:400;color:#4d4d4f;font-size:18.75px;line-height:18.75px;left:850.53px;top:680.63px;transform:scaleX(0.9664);">the</div>
<div class="t" style="font-family:'Liberation Sans',sans-serif;font-weight:400;color:#4d4d4f;font-size:18.75px;line-height:18.75px;left:878.75px;top:680.63px;transform:scaleX(0.9395);">position.</div>
<div class="t" style="font-family:'Liberation Serif',serif;font-style:italic;color:#58595b;font-size:18.02px;line-height:18.02px;left:687.20px;top:752.41px;transform:scaleX(1.0898);-webkit-text-stroke:0.25px #58595b">Less than 55% of votes results in</div>
<div class="t" style="font-family:'Liberation Serif',serif;font-style:italic;color:#58595b;font-size:18.02px;line-height:18.02px;left:711.89px;top:771.41px;transform:scaleX(1.1255);-webkit-text-stroke:0.25px #58595b">a run-off between the two</div>
<div class="t" style="font-family:'Liberation Serif',serif;font-style:italic;color:#58595b;font-size:18.02px;line-height:18.02px;left:722.79px;top:790.61px;transform:scaleX(1.1245);-webkit-text-stroke:0.25px #58595b">top-scoring candidates.</div>
<div class="t" style="font-family:'Liberation Sans',sans-serif;font-weight:400;color:#111111;font-size:16.86px;line-height:16.86px;left:132.27px;top:1047.13px;transform:scaleX(0.9568);-webkit-text-stroke:0.55px #111">Source:</div>
<div class="t" style="font-family:'Liberation Sans',sans-serif;font-weight:400;color:#111111;font-size:16.86px;line-height:16.86px;left:193.81px;top:1047.13px;transform:scaleX(1.0839);-webkit-text-stroke:0.55px #111">World Bank,</div>
<div class="t" style="font-family:'Liberation Sans',sans-serif;font-weight:400;color:#2e2e2e;font-size:16.86px;line-height:16.86px;left:299.40px;top:1047.13px;transform:scaleX(1.0621);-webkit-text-stroke:0.45px #2e2e2e">Al Jazeera, Reuters</div>
<div class="t" style="font-family:'Liberation Sans',sans-serif;font-weight:400;color:#111111;font-size:16.86px;line-height:16.86px;left:486.15px;top:1047.13px;transform:scaleX(0.9739);-webkit-text-stroke:0.55px #111">June 12, 2023</div>
<div class="t" style="font-family:'Liberation Sans',sans-serif;font-weight:400;color:#111111;font-size:14.97px;line-height:14.97px;left:907.18px;top:1043.83px;transform:scaleX(1.1829);-webkit-text-stroke:0.8px #111">@AJLabs</div>
<svg style="position:absolute;left:0;top:0" width="1081" height="1080">
<g transform="translate(435,245) scale(0.14801)" fill="#505050">
<path d="M48,40 L315,40 L315,100 L220,198 C290,215 332,265 332,320 C332,390 270,427 175,427 C110,427 60,407 33,385 L68,318 C100,340 140,355 180,355 C225,355 250,335 250,305 C250,275 225,255 175,255 L130,255 L130,190 L210,108 L48,108 Z"/>
<circle cx="385" cy="370" r="52"/>
<path d="M615,40 L710,40 L545,265 L650,265 L650,198 L728,198 L728,265 L790,265 L790,335 L728,335 L728,418 L645,418 L645,335 L440,335 L440,275 Z"/>
<path d="M780,418 V268 H818 V290 C832,272 852,262 877,262 C905,262 926,274 938,296 C953,275 976,262 1002,262 C1030,262 1022,295 1022,320 V418 H982 V330 C982,308 972,298 956,298 C938,298 922,310 922,332 V418 H880 V330 C880,308 870,298 854,298 C836,298 820,310 820,332 V418 Z"/>
</g>
<g transform="translate(260,620) scale(0.13875)" fill="#f7941d">
<path d="M85,95 L260,95 L260,505 L165,505 L165,170 L85,170 Z"/>
<path d="M320,95 L610,95 L610,158 L505,262 C585,280 630,335 630,385 C630,460 565,510 460,510 C390,510 335,490 300,465 L340,395 C375,420 420,432 460,432 C515,432 545,410 545,378 C545,345 515,325 460,325 L415,325 L415,262 L505,172 L320,172 Z"/>
<path d="M690,95 L945,95 L945,170 L765,170 L758,245 L800,245 C920,245 970,300 970,375 C970,455 905,510 790,510 C725,510 665,490 640,465 L680,395 C710,420 755,432 790,432 C850,432 880,410 880,378 C880,345 855,320 780,320 L670,320 Z"/>
</g>
</svg>
</div></body></html>
